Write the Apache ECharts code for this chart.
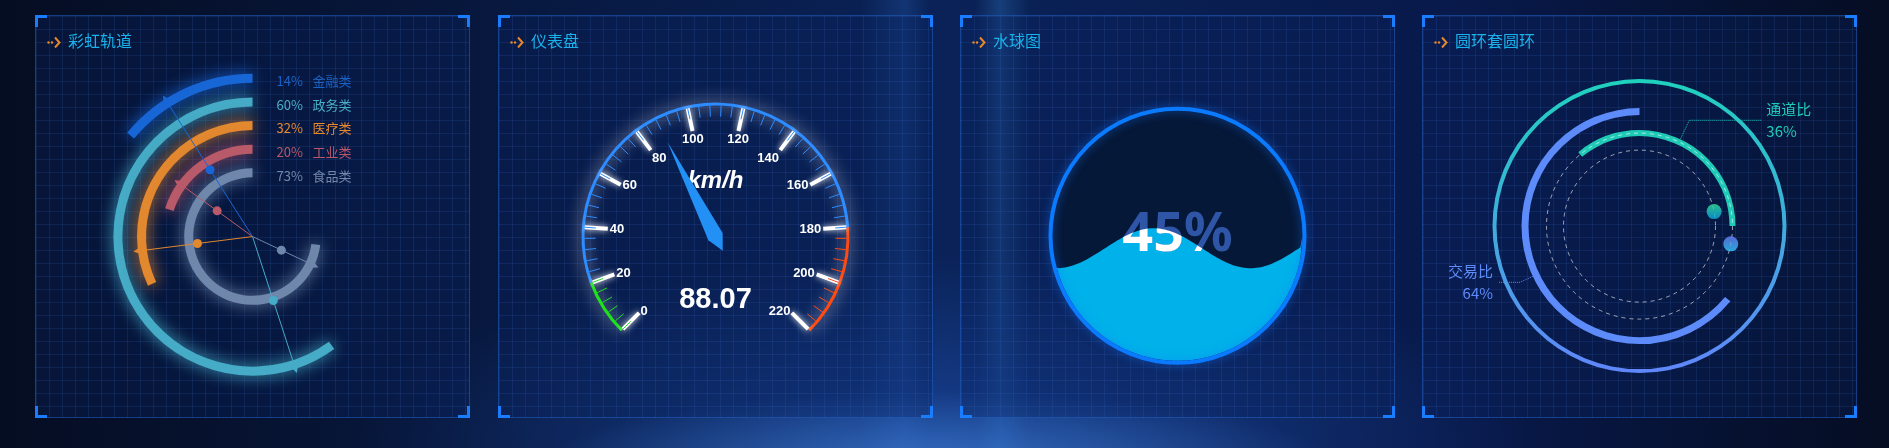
<!DOCTYPE html>
<html>
<head>
<meta charset="utf-8">
<title>大屏图表</title>
<script src="https://cdn.jsdelivr.net/npm/echarts/dist/echarts.min.js"></script>
<style>
    html, body { margin: 0; padding: 0; background: #061330; }
    .screen {
        position: relative; width: 1889px; height: 448px; overflow: hidden;
        background:
            radial-gradient(ellipse 560px 110px at 940px 470px, rgba(80,150,235,0.55), rgba(80,150,235,0) 72%),
            radial-gradient(ellipse 760px 240px at 940px 440px, rgba(30,80,175,0.65), rgba(30,80,175,0) 78%),
            linear-gradient(90deg, rgba(0,0,0,0) 860px, rgba(50,120,220,0.22) 905px, rgba(0,0,0,0) 930px,
                rgba(0,0,0,0) 975px, rgba(60,150,230,0.25) 1000px, rgba(0,0,0,0) 1030px),
            linear-gradient(90deg, #050d22 0%, #07163a 22%, #0a2257 50%, #08194a 78%, #050d22 100%);
    }
    .panel {
        position: absolute; top: 15px; width: 435px; height: 403px; box-sizing: border-box;
        border: 1px solid rgba(40,110,220,0.45);
        background-color: rgba(10,35,95,0.35);
        background-image:
            linear-gradient(rgba(60,110,200,0.16) 1px, transparent 1px),
            linear-gradient(90deg, rgba(60,110,200,0.16) 1px, transparent 1px);
        background-size: 13px 13px;
    }
    .panel .chart { position: absolute; left: 0; top: 0; width: 433px; height: 401px; }
    .title {
        position: absolute; left: 11px; top: 13px; z-index: 2;
        font: 16px "Noto Sans CJK SC", sans-serif; color: #19b2ea; line-height: 22px;
    }
    .title svg { vertical-align: -1px; margin-right: 6px; }
    .corner { position: absolute; width: 9px; height: 9px; border: 0 solid #1a7dff; z-index: 3; }
    .tl { left: -1px; top: -1px; border-left-width: 3px; border-top-width: 3px; }
    .tr { right: -1px; top: -1px; border-right-width: 3px; border-top-width: 3px; }
    .bl { left: -1px; bottom: -1px; border-left-width: 3px; border-bottom-width: 3px; }
    .br { right: -1px; bottom: -1px; border-right-width: 3px; border-bottom-width: 3px; }
</style>
</head>
<body>
<div class="screen">
    <div class="panel" style="left:35px">
        <div class="title"><svg width="15" height="12" viewBox="0 0 15 12"><circle cx="1.5" cy="6.5" r="1.2" fill="#e8872b"/><circle cx="5" cy="6.5" r="1.2" fill="#e8872b"/><polyline points="8,1.5 12.5,6.5 8,11.5" fill="none" stroke="#e8872b" stroke-width="2"/></svg>彩虹轨道</div>
        <div class="chart" id="rainbow"></div>
        <i class="corner tl"></i><i class="corner tr"></i><i class="corner bl"></i><i class="corner br"></i>
    </div>
    <div class="panel" style="left:498px">
        <div class="title"><svg width="15" height="12" viewBox="0 0 15 12"><circle cx="1.5" cy="6.5" r="1.2" fill="#e8872b"/><circle cx="5" cy="6.5" r="1.2" fill="#e8872b"/><polyline points="8,1.5 12.5,6.5 8,11.5" fill="none" stroke="#e8872b" stroke-width="2"/></svg>仪表盘</div>
        <div class="chart" id="gauge"></div>
        <i class="corner tl"></i><i class="corner tr"></i><i class="corner bl"></i><i class="corner br"></i>
    </div>
    <div class="panel" style="left:960px">
        <div class="title"><svg width="15" height="12" viewBox="0 0 15 12"><circle cx="1.5" cy="6.5" r="1.2" fill="#e8872b"/><circle cx="5" cy="6.5" r="1.2" fill="#e8872b"/><polyline points="8,1.5 12.5,6.5 8,11.5" fill="none" stroke="#e8872b" stroke-width="2"/></svg>水球图</div>
        <div class="chart" id="liquid"></div>
        <i class="corner tl"></i><i class="corner tr"></i><i class="corner bl"></i><i class="corner br"></i>
    </div>
    <div class="panel" style="left:1422px">
        <div class="title"><svg width="15" height="12" viewBox="0 0 15 12"><circle cx="1.5" cy="6.5" r="1.2" fill="#e8872b"/><circle cx="5" cy="6.5" r="1.2" fill="#e8872b"/><polyline points="8,1.5 12.5,6.5 8,11.5" fill="none" stroke="#e8872b" stroke-width="2"/></svg>圆环套圆环</div>
        <div class="chart" id="ring"></div>
        <i class="corner tl"></i><i class="corner tr"></i><i class="corner bl"></i><i class="corner br"></i>
    </div>
</div>
<script>
'use strict';

// 彩虹轨道
var rainbowNames = ['金融类', '政务类', '医疗类', '工业类', '食品类'];
var rainbowValues = [14, 60, 32, 20, 73];
var rainbowColors = ['#1866d6', '#45abc6', '#e2882f', '#b95a69', '#6e87aa'];
var rainbowTextColors = ['#1b62c4', '#4aaec6', '#e8892f', '#b9586a', '#7388a8'];

// 仪表盘
var speedName = 'km/h';
var speedValue = 88.07;

// 水球图
var liquidValues = [0.45];

// 圆环套圆环
var ringNames = ['交易比', '通道比'];
var ringValues = [64, 36];
var ringDotAngles = [11, 349];

var FONT = '"Noto Sans CJK SC", "Noto Sans", sans-serif';

function initRainbow(id) {
    var chart = echarts.init(document.getElementById(id));
    var pairs = rainbowValues.map(function (v, i) { return [i, v]; });
    chart.setOption({
        polar: { center: ['50%', '55%'], radius: [52, 170] },
        angleAxis: { type: 'value', min: 0, max: 100, startAngle: 90, clockwise: false, show: false },
        radiusAxis: { type: 'category', data: rainbowNames, inverse: true, show: false },
        series: [{
            type: 'bar',
            coordinateSystem: 'polar',
            barWidth: 9,
            silent: true,
            data: rainbowValues.map(function (v, i) {
                return { value: v, itemStyle: { color: rainbowColors[i], shadowColor: rainbowColors[i], shadowBlur: 16 } };
            })
        }, {
            // 指针线 + 箭头 + 圆点
            type: 'custom',
            coordinateSystem: 'polar',
            silent: true,
            z: 3,
            data: pairs,
            renderItem: function (params, api) {
                var cs = params.coordSys;
                var color = rainbowColors[params.dataIndex];
                var end = api.coord([api.value(0), api.value(1) - 5]);
                var dx = end[0] - cs.cx, dy = end[1] - cs.cy;
                var len = Math.sqrt(dx * dx + dy * dy);
                var ux = dx / len, uy = dy / len;
                var tip = [end[0] + ux * 9, end[1] + uy * 9];
                var notch = [end[0] + ux * 1, end[1] + uy * 1];
                var s1 = [end[0] - ux * 3 - uy * 6, end[1] - uy * 3 + ux * 6];
                var s2 = [end[0] - ux * 3 + uy * 6, end[1] - uy * 3 - ux * 6];
                return {
                    type: 'group',
                    children: [
                        { type: 'line', shape: { x1: cs.cx, y1: cs.cy, x2: end[0], y2: end[1] }, style: { stroke: color, lineWidth: 1 } },
                        { type: 'polygon', shape: { points: [tip, s1, notch, s2] }, style: { fill: color } },
                        { type: 'circle', shape: { cx: cs.cx + dx / 2, cy: cs.cy + dy / 2, r: 4.5 }, style: { fill: color } }
                    ]
                };
            }
        }, {
            // 右侧文字
            type: 'custom',
            coordinateSystem: 'polar',
            silent: true,
            data: pairs,
            renderItem: function (params, api) {
                var cs = params.coordSys;
                var color = rainbowTextColors[params.dataIndex];
                var p = api.coord([api.value(0), 0]);
                var font = '13px ' + FONT;
                return {
                    type: 'group',
                    children: [
                        { type: 'text', x: cs.cx + 24, y: p[1] + 3, style: { text: api.value(1) + '%', fill: color, font: font, verticalAlign: 'middle' } },
                        { type: 'text', x: cs.cx + 60, y: p[1] + 3, style: { text: rainbowNames[params.dataIndex], fill: color, font: font, verticalAlign: 'middle' } }
                    ]
                };
            }
        }]
    });
    return chart;
}

function initGauge(id) {
    var chart = echarts.init(document.getElementById(id));
    chart.setOption({
        series: [{
            type: 'gauge',
            center: ['50%', '55%'],
            radius: 134,
            startAngle: 225,
            endAngle: -45,
            min: 0,
            max: 220,
            splitNumber: 11,
            axisLine: {
                lineStyle: {
                    width: 3,
                    color: [[20 / 220, '#1fe01c'], [180 / 220, '#2d8cff'], [1, '#ff4a12']],
                    shadowColor: 'rgba(255,255,255,0.9)',
                    shadowBlur: 16
                }
            },
            axisTick: { distance: 0, length: 11, splitNumber: 5, lineStyle: { color: 'auto', width: 1 } },
            splitLine: { distance: 0, length: 23, lineStyle: { color: '#fff', width: 4, shadowColor: 'rgba(255,255,255,0.9)', shadowBlur: 6 } },
            axisLabel: { distance: 5, color: '#fff', fontSize: 13, fontWeight: 'bold', fontFamily: 'Liberation Sans, Arial, sans-serif' },
            pointer: { length: 106, width: 8, itemStyle: { color: '#2390f6' } },
            anchor: { show: false },
            title: {
                offsetCenter: [0, -55],
                color: '#fff', fontSize: 24, fontStyle: 'italic', fontWeight: 'bold',
                fontFamily: 'Liberation Sans, Arial, sans-serif'
            },
            detail: {
                offsetCenter: [0, 63],
                color: '#fff', fontSize: 29, fontWeight: 'bold',
                fontFamily: 'Liberation Sans, Arial, sans-serif',
                formatter: function (v) { return v.toFixed(2); }
            },
            data: [{ value: speedValue, name: speedName }]
        }]
    });
    return chart;
}

function initLiquid(id) {
    var chart = echarts.init(document.getElementById(id));
    chart.setOption({
        series: [{
            type: 'custom',
            coordinateSystem: 'none',
            silent: true,
            data: liquidValues,
            renderItem: function (params, api) {
                var cx = api.getWidth() * 0.5, cy = api.getHeight() * 0.548;
                var r = 125;
                var v = api.value(0);
                var level = cy + r - 2 * r * v;
                var amp = 20, waveLen = 194, crest = cx - 24;
                var top = [], bottom = [];
                for (var k = 0; k <= 120; k++) {
                    var x = cx - r + 2 * r * k / 120;
                    var half = Math.sqrt(Math.max(0, r * r - (x - cx) * (x - cx)));
                    var y = level - amp * Math.cos(2 * Math.PI * (x - crest) / waveLen);
                    y = Math.min(Math.max(y, cy - half), cy + half);
                    top.push([x, y]);
                    bottom.unshift([x, cy + half]);
                }
                var wave = top.concat(bottom);
                var label = Math.round(v * 100) + '%';
                var font = 'bold 54px "Noto Sans", sans-serif';
                return {
                    type: 'group',
                    children: [
                        { type: 'circle', shape: { cx: cx, cy: cy, r: r + 1 }, style: { fill: '#061838' } },
                        { type: 'polygon', shape: { points: wave }, style: { fill: '#00b2e9' } },
                        { type: 'text', style: { x: cx, y: cy, text: label, fill: '#2f55a6', font: font, align: 'center', verticalAlign: 'middle' } },
                        {
                            // 水面以下的文字为白色
                            type: 'text',
                            style: { x: cx, y: cy, text: label, fill: '#ffffff', font: font, align: 'center', verticalAlign: 'middle' },
                            clipPath: { type: 'polygon', shape: { points: wave } }
                        },
                        {
                            type: 'circle', shape: { cx: cx, cy: cy, r: r + 2 },
                            style: { fill: 'none', stroke: '#0a7bff', lineWidth: 4, shadowColor: 'rgba(20,120,255,0.6)', shadowBlur: 10 }
                        }
                    ]
                };
            }
        }]
    });
    return chart;
}

function initRing(id) {
    var chart = echarts.init(document.getElementById(id));
    var center = ['50%', '52.4%'];
    var blue = '#5d8bfa', teal = '#1fcbb6';
    var dashAxis = function (idx) {
        return {
            polarIndex: idx, type: 'value', min: 0, max: 360, startAngle: 0, clockwise: false, z: 5,
            axisLine: { lineStyle: { color: 'rgba(255,255,255,0.6)', width: 1, type: [4, 4] } },
            axisTick: { show: false }, axisLabel: { show: false }, splitLine: { show: false }
        };
    };
    chart.setOption({
        polar: [{ center: center, radius: 76 }, { center: center, radius: 93 }],
        angleAxis: [dashAxis(0), dashAxis(1)],
        radiusAxis: [
            { polarIndex: 0, type: 'value', min: 0, max: 1, show: false },
            { polarIndex: 1, type: 'value', min: 0, max: 1, show: false }
        ],
        series: [{
            type: 'pie',
            silent: true,
            center: center,
            radius: [143, 147],
            label: { show: false },
            data: [{
                value: 100,
                itemStyle: {
                    color: new echarts.graphic.LinearGradient(0, 0, 0, 1, [
                        { offset: 0, color: '#1fd2bd' }, { offset: 1, color: '#6086fb' }
                    ])
                }
            }]
        }, {
            type: 'pie',
            silent: true,
            center: center,
            radius: [111, 118],
            startAngle: 90,
            clockwise: false,
            avoidLabelOverlap: false,
            label: { formatter: '{b}\n{d}%', color: blue, fontSize: 15, lineHeight: 22, fontFamily: FONT },
            labelLine: { length: 14, length2: 22, lineStyle: { type: 'dotted', width: 1 } },
            data: [
                { value: ringValues[0], name: ringNames[0], itemStyle: { color: blue } },
                { value: 100 - ringValues[0], name: '', itemStyle: { color: 'transparent' }, label: { show: false }, labelLine: { show: false } }
            ]
        }, {
            type: 'pie',
            silent: true,
            center: center,
            radius: [90, 96],
            startAngle: 0,
            clockwise: false,
            avoidLabelOverlap: false,
            label: { formatter: '{b}\n{d}%', color: teal, fontSize: 15, lineHeight: 22, fontFamily: FONT },
            labelLine: { length: 21, length2: 72, lineStyle: { type: 'dotted', width: 1 } },
            data: [
                { value: ringValues[1], name: ringNames[1], itemStyle: { color: teal } },
                { value: 100 - ringValues[1], name: '', itemStyle: { color: 'transparent' }, label: { show: false }, labelLine: { show: false } }
            ]
        }, {
            type: 'scatter',
            coordinateSystem: 'polar',
            polarIndex: 0,
            silent: true,
            z: 6,
            symbolSize: 15,
            itemStyle: {
                color: new echarts.graphic.LinearGradient(0, 0, 0, 1, [
                    { offset: 0, color: '#34e89c' }, { offset: 1, color: '#0aa6e6' }
                ])
            },
            data: [[1, ringDotAngles[0]]]
        }, {
            type: 'scatter',
            coordinateSystem: 'polar',
            polarIndex: 1,
            silent: true,
            z: 6,
            symbolSize: 15,
            itemStyle: {
                color: new echarts.graphic.LinearGradient(0, 0, 0, 1, [
                    { offset: 0, color: '#6c7ef8' }, { offset: 1, color: '#33cbff' }
                ])
            },
            data: [[1, ringDotAngles[1]]]
        }]
    });
    return chart;
}

initRainbow('rainbow');
initGauge('gauge');
initLiquid('liquid');
initRing('ring');
</script>
</body>
</html>
